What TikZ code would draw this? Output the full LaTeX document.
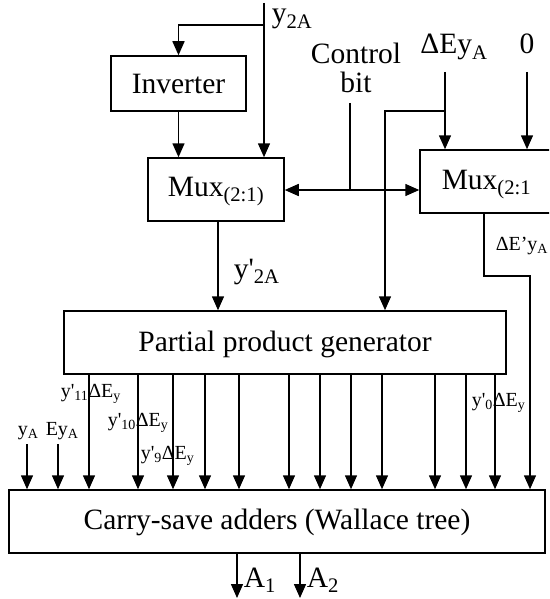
\documentclass[tikz,border=0pt]{standalone}
\usepackage{fontspec}
\setmainfont[Ligatures=TeXOff]{Liberation Serif}
\usetikzlibrary{arrows.meta}
\newcommand\bigf{\fontsize{29.5}{31}\selectfont}
\newcommand\smf{\fontsize{20}{22}\selectfont}
\begin{document}
\begin{tikzpicture}[x=1pt,y=-1pt, line width=1.5pt,
  arr/.style={-{Triangle[length=14pt,width=12pt]}},
  box/.style={draw, line width=1.5pt, inner sep=0pt},
  lbl/.style={inner sep=0pt, anchor=base west, font=\bigf},
  slbl/.style={inner sep=0pt, anchor=base west, font=\smf}]
\useasboundingbox (0,0) rectangle (549,599);
\clip (0,0) rectangle (549,599);
% boxes
\node[box, minimum width=135pt, minimum height=55pt] (inv) at (178.5,83.5) {};
\node[lbl, anchor=base] (invt) at (178.5,94) {Inverter};
\node[box, minimum width=136pt, minimum height=63pt] (lmux) at (216,189.5) {};
\node[lbl, anchor=base] (lmuxt) at (216,196) {Mux\textsubscript{(2:1)}};
\node[box, minimum width=160pt, minimum height=63pt] (rmux) at (500,181.5) {};
\node[lbl] (rmuxt) at (441,189) {Mux\textsubscript{(2:1}};
\node[box, minimum width=442pt, minimum height=63pt] (ppg) at (285,342.5) {};
\node[lbl, anchor=base] (ppgt) at (285,351) {Partial product generator};
\node[box, minimum width=536pt, minimum height=63pt] (csa) at (277,521.5) {};
\node[lbl, anchor=base] (csat) at (277,529) {Carry-save adders (Wallace tree)};
% y2A input
\coordinate (y2top) at (264,3);
\coordinate (y2br) at (264,25);
\draw[arr] (y2top) -- (y2top |- lmux.north);
\draw[arr] (y2br) -| (inv.north);
\draw[arr] (inv.south) -- (inv.south |- lmux.north);
\node[lbl] (y2l) at (271,23) {y\textsubscript{2A}};
% control bit
\node[lbl, anchor=base] (ctl1) at (356,64) {Control};
\node[lbl, anchor=base] (ctl2) at (356,93) {bit};
\coordinate (ctop) at (350,103);
\coordinate (cj) at (350,190);
\draw (ctop) -- (cj);
\draw[arr] (cj) -- (cj -| lmux.east);
\draw[arr] (cj) -- (cj -| rmux.west);
% Delta E yA and 0
\node[lbl, anchor=base] (dey) at (454,54) {ΔEy\textsubscript{A}};
\coordinate (detop) at (445,72);
\coordinate (debr) at (445,111);
\coordinate (dex) at (385,111);
\draw[arr] (detop) -- (detop |- rmux.north);
\draw[arr] (debr) -- (dex) -- (dex |- ppg.north);
\node[lbl, anchor=base] (zero) at (527,54) {0};
\coordinate (ztop) at (527,72);
\draw[arr] (ztop) -- (ztop |- rmux.north);
% left mux to ppg
\coordinate (lmo) at (218,0);
\draw[arr] (lmo |- lmux.south) -- (lmo |- ppg.north);
\node[lbl] (y2p) at (233,278) {y'\textsubscript{2A}};
% right mux output
\coordinate (ro) at (484,0);
\coordinate (rb1) at (484,276);
\coordinate (rb2) at (530,276);
\draw[arr] (ro |- rmux.south) -- (rb1) -- (rb2) -- (rb2 |- csa.north);
\node[slbl] (dep) at (495,250) {ΔE’y\textsubscript{A}};
% ppg outputs
\foreach \x [count=\i] in {89,138,173,205,239,289,320,351,382,435,466,495} {
  \coordinate (o\i) at (\x,0);
  \draw[arr] (o\i |- ppg.south) -- (o\i |- csa.north);
}
% yA, EyA
\coordinate (ya) at (27,444);
\coordinate (eya) at (58,444);
\draw[arr] (ya) -- (ya |- csa.north);
\draw[arr] (eya) -- (eya |- csa.north);
\node[slbl] (yal) at (17,435) {y\textsubscript{A}};
\node[slbl] (eyal) at (45,435) {Ey\textsubscript{A}};
\node[slbl] (l11) at (60,397) {y'\textsubscript{11}ΔE\textsubscript{y}};
\node[slbl] (l10) at (107,426) {y'\textsubscript{10}ΔE\textsubscript{y}};
\node[slbl] (l9) at (140,459) {y'\textsubscript{9}ΔE\textsubscript{y}};
\node[slbl] (l0) at (471,406) {y'\textsubscript{0}ΔE\textsubscript{y}};
% outputs
\coordinate (a1) at (237,0);
\coordinate (a1e) at (237,598);
\coordinate (a2) at (300,0);
\coordinate (a2e) at (300,598);
\draw[arr] (a1 |- csa.south) -- (a1e);
\draw[arr] (a2 |- csa.south) -- (a2e);
\node[lbl] (a1l) at (243,587) {A\textsubscript{1}};
\node[lbl] (a2l) at (306,587) {A\textsubscript{2}};
\end{tikzpicture}
\end{document}
